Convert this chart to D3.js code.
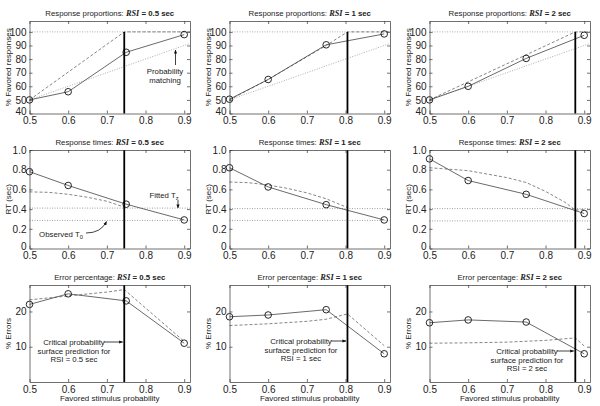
<!DOCTYPE html>
<html><head><meta charset="utf-8">
<script src="https://cdn.jsdelivr.net/npm/d3@7"></script>
<style>
html,body{margin:0;padding:0;background:#fff;}
svg{display:block;font-family:"Liberation Sans",Arial,sans-serif;}
</style></head>
<body><svg id="c" width="600" height="406"></svg>
<script>
// ---------- data ----------
const rsiLabels = ["0.5", "1", "2"];
const xTicks = [0.5, 0.6, 0.7, 0.8, 0.9];
const stimProb = [0.5, 0.6, 0.75, 0.9];
const critProb = [0.745, 0.805, 0.877];

const propObserved = [[50, 56, 85, 98], [50.5, 65, 90.5, 98.5], [50, 60, 80.5, 97.5]];
const propPredicted = [
  [[0.5, 50], [0.745, 100], [0.915, 100]],
  [[0.5, 50], [0.6, 65], [0.75, 90], [0.805, 100], [0.915, 100]],
  [[0.5, 50], [0.877, 100], [0.915, 100]]
];
const propTicks = [40, 50, 60, 70, 80, 90, 100];

const rtObserved = [[0.78, 0.64, 0.45, 0.29], [0.82, 0.625, 0.445, 0.29], [0.91, 0.69, 0.55, 0.355]];
const rtPredicted = [
  [[0.5, 0.575], [0.55, 0.57], [0.6, 0.55], [0.65, 0.52], [0.7, 0.48], [0.745, 0.42]],
  [[0.5, 0.675], [0.55, 0.668], [0.6, 0.645], [0.65, 0.61], [0.7, 0.565], [0.75, 0.505], [0.805, 0.415]],
  [[0.5, 0.82], [0.6, 0.79], [0.7, 0.72], [0.75, 0.67], [0.8, 0.58], [0.85, 0.47], [0.877, 0.39], [0.9, 0.395]]
];
const fittedTz = [0.41, 0.405, 0.405];
const observedT0 = [0.285, 0.285, 0.28];
const rtTicks = [0, 0.2, 0.4, 0.6, 0.8, 1.0];

const errObserved = [[22, 25, 23, 11], [18.5, 19, 20.5, 8], [16.8, 17.6, 17, 8]];
const errPredicted = [
  [[0.5, 23.3], [0.6, 24.4], [0.7, 25.5], [0.745, 26.2], [0.9, 11.5]],
  [[0.5, 16], [0.6, 16.5], [0.7, 17.2], [0.75, 17.8], [0.805, 19.3], [0.9, 10.3]],
  [[0.5, 11], [0.6, 11.1], [0.7, 11.3], [0.8, 11.8], [0.877, 12.5], [0.9, 10.2]]
];
const errTicks = [10, 20];

// ---------- layout ----------
const svg = d3.select("#c");
const cols = [[29.5, 190], [229.5, 390], [429.5, 590]];
const rows = [
  {y: [113.5, 21], dom: [40, 108], ticks: propTicks, fmt: d => d, label: "% Favored responses", title: "Response proportions: ",
   obs: propObserved, pred: propPredicted},
  {y: [248.5, 150], dom: [0, 1], ticks: rtTicks, fmt: d => d === 0 ? "0" : d.toFixed(1), label: "RT (sec)", title: "Response times: ",
   obs: rtObserved, pred: rtPredicted},
  {y: [382, 285], dom: [0, 27.5], ticks: errTicks, fmt: d => d, label: "% Errors", title: "Error percentage:  ",
   obs: errObserved, pred: errPredicted}
];

const defs = svg.append("defs");
defs.append("marker").attr("id", "ah").attr("viewBox", "0 0 10 10").attr("refX", 9).attr("refY", 5)
  .attr("markerWidth", 5).attr("markerHeight", 5).attr("orient", "auto-start-reverse")
  .append("path").attr("d", "M0,1 L10,5 L0,9 z").attr("fill", "#111");

const FT = 8;    // tick labels
const FS = 7.8;  // titles / annotations
const FL = 8;    // axis labels

rows.forEach((row, ri) => {
  cols.forEach((col, ci) => {
    const x = d3.scaleLinear().domain([0.5, 0.915]).range(col);
    const y = d3.scaleLinear().domain(row.dom).range(row.y);
    const g = svg.append("g");
    const [xl, xr] = col; const [yb, yt] = row.y;

    // reference lines
    if (ri === 0) {
      g.append("line").attr("x1", xl).attr("x2", xr).attr("y1", y(100)).attr("y2", y(100))
        .attr("stroke", "#999").attr("stroke-width", 0.8).attr("stroke-dasharray", "1,1.5");
      g.append("line").attr("x1", x(0.5)).attr("x2", x(0.915)).attr("y1", y(50)).attr("y2", y(91.5))
        .attr("stroke", "#999").attr("stroke-width", 0.8).attr("stroke-dasharray", "1,1.5");
    }
    if (ri === 1) {
      [fittedTz[ci], observedT0[ci]].forEach(v => {
        g.append("line").attr("x1", xl).attr("x2", xr).attr("y1", y(v)).attr("y2", y(v))
          .attr("stroke", "#888").attr("stroke-width", 0.8).attr("stroke-dasharray", "1,1.5");
      });
    }

    // predicted (dashed)
    const line = d3.line().x(d => x(d[0])).y(d => y(d[1]));
    g.append("path").attr("d", line(row.pred[ci])).attr("fill", "none")
      .attr("stroke", "#666").attr("stroke-width", 0.8).attr("stroke-dasharray", "3,2");

    // observed (solid + circles)
    const pts = stimProb.map((p, i) => [p, row.obs[ci][i]]);
    g.append("path").attr("d", line(pts)).attr("fill", "none").attr("stroke", "#444").attr("stroke-width", 0.8);
    g.selectAll("circle").data(pts).join("circle")
      .attr("cx", d => x(d[0])).attr("cy", d => y(d[1])).attr("r", 3.3)
      .attr("fill", "none").attr("stroke", "#111").attr("stroke-width", 0.9);

    // critical probability vertical line
    const vTop = ri === 0 ? y(100) : yt;
    g.append("line").attr("x1", x(critProb[ci])).attr("x2", x(critProb[ci]))
      .attr("y1", yb).attr("y2", vTop).attr("stroke", "#000").attr("stroke-width", 1.8);

    // axes
    const ax = g.append("g").attr("font-size", FT).attr("font-family", "Liberation Sans, Arial, sans-serif");
    ax.append("g").attr("transform", `translate(0,${yb})`)
      .call(d3.axisBottom(x).tickValues(xTicks).tickSizeInner(-3).tickSizeOuter(0).tickPadding(3.6).tickFormat(d3.format(".1f")));
    ax.append("g").attr("transform", `translate(0,${yt})`)
      .call(d3.axisTop(x).tickValues(xTicks).tickSizeInner(-3).tickSizeOuter(0).tickFormat(""));
    const la = ax.append("g").attr("transform", `translate(${xl},0)`)
      .call(d3.axisLeft(y).tickValues(row.ticks).tickSizeInner(-3).tickSizeOuter(0).tickPadding(3).tickFormat(row.fmt));
    la.selectAll(".tick text").filter(d => d === row.dom[0]).attr("dy", "0.05em");
    ax.append("g").attr("transform", `translate(${xr},0)`)
      .call(d3.axisRight(y).tickValues(row.ticks).tickSizeInner(-3).tickSizeOuter(0).tickFormat(""));
    ax.selectAll("path.domain").attr("stroke", "#333").attr("stroke-width", 0.7);
    ax.selectAll(".tick line").attr("stroke", "#333").attr("stroke-width", 0.7);
    ax.selectAll(".tick text").attr("fill", "#222");

    // y label
    g.append("text").attr("transform", `translate(${xl - 19},${(yb + yt) / 2}) rotate(-90)`)
      .attr("text-anchor", "middle").attr("font-size", FL).attr("fill", "#222").text(row.label);

    // title
    const t = g.append("text").attr("x", (xl + xr) / 2).attr("y", yt - 5).attr("text-anchor", "middle")
      .attr("font-size", FS).attr("fill", "#222");
    t.append("tspan").text(row.title);
    t.append("tspan").attr("font-family", "Liberation Serif, Times New Roman, serif").attr("font-weight", "bold")
      .attr("font-style", "italic").attr("font-size", FS + 0.5).text("RSI");
    t.append("tspan").attr("font-weight", "bold").text(" = " + rsiLabels[ci] + " sec");

    // x label (bottom row)
    if (ri === 2) {
      g.append("text").attr("x", (xl + xr) / 2).attr("y", 400.5).attr("text-anchor", "middle")
        .attr("font-size", FL).attr("fill", "#222").text("Favored stimulus probability");
    }

    // annotations
    if (ri === 2) {
      const cx = x(critProb[ci]);
      const tx = [74, 301, 527][ci];
      const ty = [342, 341, 351][ci];
      const lines = ["Critical probability", "surface prediction for", "RSI = " + rsiLabels[ci] + " sec"];
      lines.forEach((s, i) => g.append("text").attr("x", tx).attr("y", ty + 3 + i * 8.7)
        .attr("text-anchor", "middle").attr("font-size", FS).attr("fill", "#222").text(s));
      const tw = 30;
      g.append("line").attr("x1", tx + tw).attr("x2", cx - 1.5).attr("y1", ty).attr("y2", ty)
        .attr("stroke", "#111").attr("stroke-width", 0.8).attr("marker-end", "url(#ah)");
    }
  });
});

// panel-specific annotations
// Probability matching (top-left)
svg.append("text").attr("x", 165).attr("y", 73.5).attr("text-anchor", "middle").attr("font-size", FS).attr("fill", "#222").text("Probability");
svg.append("text").attr("x", 165).attr("y", 83).attr("text-anchor", "middle").attr("font-size", FS).attr("fill", "#222").text("matching");
svg.append("line").attr("x1", 175.5).attr("x2", 175.5).attr("y1", 65).attr("y2", 50)
  .attr("stroke", "#111").attr("stroke-width", 0.8).attr("marker-end", "url(#ah)");

// Fitted Tz (middle-left)
const ftz = svg.append("text").attr("x", 164).attr("y", 198).attr("text-anchor", "middle").attr("font-size", FS).attr("fill", "#222");
ftz.append("tspan").text("Fitted T");
ftz.append("tspan").attr("font-size", 5.8).attr("dy", 2).text("z");
svg.append("line").attr("x1", 178).attr("x2", 178).attr("y1", 200).attr("y2", 208)
  .attr("stroke", "#111").attr("stroke-width", 0.8).attr("marker-end", "url(#ah)");

// Observed T0 (middle-left)
const ot0 = svg.append("text").attr("x", 61).attr("y", 236.5).attr("text-anchor", "middle").attr("font-size", FS).attr("fill", "#222");
ot0.append("tspan").text("Observed T");
ot0.append("tspan").attr("font-size", 5.8).attr("dy", 2).text("0");
svg.append("path").attr("d", "M86,233 Q101,233 106.5,221.5").attr("fill", "none")
  .attr("stroke", "#111").attr("stroke-width", 0.8).attr("marker-end", "url(#ah)");
</script>
</body></html>
